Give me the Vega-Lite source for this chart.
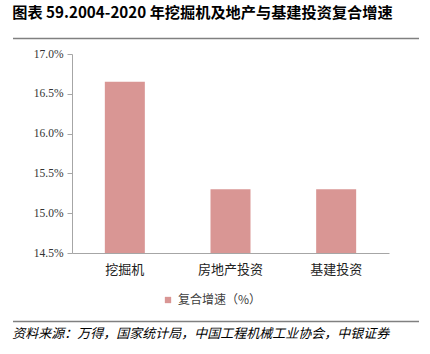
{
  "$schema": "https://vega.github.io/schema/vega-lite/v6.json",
  "padding": {"left": 12, "right": 12, "top": 5, "bottom": 5},
  "background": "white",
  "title": {"text": "图表 59.2004-2020 年挖掘机及地产与基建投资复合增速", "anchor": "start", "font": "Noto Sans CJK SC", "fontWeight": "bold", "fontSize": 15.2, "color": "#000000", "offset": 17},
  "config": {"view": {"stroke": null}, "font": "Liberation Serif"},
  "vconcat": [
    {
      "vconcat": [
        {
          "data": {"values": [{"s": 0, "e": 1}]},
          "width": 406,
          "height": 1,
          "mark": {"type": "rule", "color": "#808080", "strokeWidth": 1.5},
          "encoding": {
            "x": {"field": "s", "type": "quantitative", "scale": {"domain": [0, 1]}, "axis": null},
            "x2": {"field": "e"}
          }
        },
        {
          "data": {"values": [
            {"category": "挖掘机", "rate": 0.1665, "base": 0.145, "series": "复合增速（%）"},
            {"category": "房地产投资", "rate": 0.153, "base": 0.145, "series": "复合增速（%）"},
            {"category": "基建投资", "rate": 0.153, "base": 0.145, "series": "复合增速（%）"}
          ]},
          "width": 406,
          "height": 199,
          "mark": {"type": "bar", "size": 40},
          "encoding": {
            "x": {"field": "category", "type": "nominal", "sort": null,
              "scale": {"range": [59, 376], "paddingInner": 0, "paddingOuter": 0},
              "axis": {"title": null, "labelAngle": 0, "ticks": false, "domainColor": "#a6a6a6", "labelFont": "Noto Sans CJK SC", "labelFontSize": 13, "labelPadding": 10, "labelColor": "#222222"}},
            "y": {"field": "rate", "type": "quantitative",
              "scale": {"domain": [0.145, 0.17], "zero": false, "nice": false},
              "axis": {"title": null, "format": ".1%", "values": [0.145, 0.15, 0.155, 0.16, 0.165, 0.17], "grid": false, "offset": -59, "domainColor": "#a6a6a6", "tickColor": "#a6a6a6", "tickSize": 5, "labelFontSize": 11.5, "labelColor": "#333333", "labelFont": "Liberation Serif", "labelPadding": 4}},
            "y2": {"field": "base"},
            "color": {"field": "series", "type": "nominal", "scale": {"range": ["#D99694"]},
              "legend": {"title": null, "orient": "none", "legendX": 149, "legendY": 256, "symbolType": "square", "symbolSize": 40, "symbolStrokeWidth": 0, "labelFont": "Noto Sans CJK SC", "labelFontSize": 12, "labelColor": "#404040"}}
          }
        }
      ],
      "spacing": 8
    },
    {
      "data": {"values": [{"s": 0, "e": 1}]},
      "width": 406,
      "height": 1,
      "mark": {"type": "rule", "color": "#808080", "strokeWidth": 1.5},
      "encoding": {
        "x": {"field": "s", "type": "quantitative", "scale": {"domain": [0, 1]}, "axis": null},
        "x2": {"field": "e"}
      },
      "title": {"text": "资料来源：万得，国家统计局，中国工程机械工业协会，中银证券", "orient": "bottom", "anchor": "start", "font": "Noto Sans CJK SC", "fontStyle": "italic", "fontSize": 13, "fontWeight": "normal", "color": "#000000", "offset": 6}
    }
  ],
  "spacing": 44
}
